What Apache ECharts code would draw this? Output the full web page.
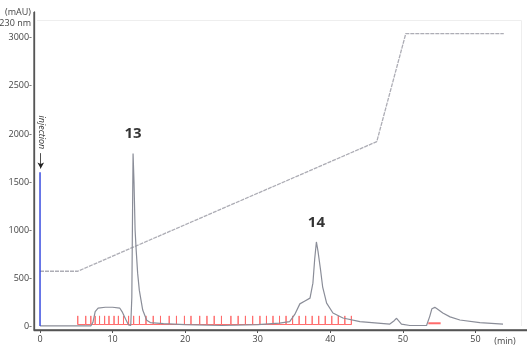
<!DOCTYPE html>
<html><head><meta charset="utf-8">
<script src="https://cdn.jsdelivr.net/npm/echarts@6/dist/echarts.min.js"></script>
<style>html,body{margin:0;padding:0;background:#fff}#c{width:527px;height:347px}</style>
</head><body><div id="c"></div>
<script>
// x tick labels as printed on the original (last one reads "50")
const xTickValues = [0, 10, 20, 30, 40, 50, 60];
const xTickLabels = ['0', '10', '20', '30', '40', '50', '50'];
const yTickValues = [0, 500, 1000, 1500, 2000, 2500, 3000];
const yTickLabels = ['0-', '500-', '1000-', '1500-', '2000-', '2500-', '3000-'];

// chromatogram trace [min, mAU]
const traceTime = [0, 7.0, 7.3, 7.6, 8.0, 9.0, 10.0, 11.0, 11.3, 11.5, 11.8, 12.2, 12.5, 12.65, 12.75, 12.82, 12.95, 13.1, 13.25, 13.45, 13.68, 14.15, 14.7, 15.2, 17, 20, 25, 30, 33, 34.4, 35.1, 35.8, 36.5, 37.2, 37.6, 37.85, 38.08, 38.3, 38.66, 38.94, 39.49, 40.36, 41.74, 44.08, 48.2, 48.44, 48.8, 49.13, 49.4, 49.8, 50.96, 53.26, 53.7, 54.0, 54.4, 54.7, 55.5, 56.5, 57.85, 60.6, 63.8];
const traceValue = [0, 0, 40, 150, 185, 195, 195, 185, 150, 130, 70, 10, 5, 300, 1200, 1795, 1500, 1000, 790, 550, 373, 166, 60, 35, 25, 15, 5, 15, 30, 45, 120, 230, 260, 290, 446, 700, 875, 780, 580, 408, 238, 135, 83, 45, 20, 15, 55, 80, 70, 20, 5, 5, 100, 180, 194, 180, 135, 95, 62, 34, 20];

// gradient profile [min, value]
const gradTime = [0, 5.2, 46.4, 50.4, 63.9];
const gradValue = [570, 570, 1920, 3045, 3045];

// injection mark
const injectionTime = 0;
const injectionHeight = 1600;

// fraction collector marks (min)
const fractionTimes = [5.2, 6.3, 7.0, 7.6, 8.2, 8.9, 9.5, 10.2, 10.8, 11.5, 12.2, 12.9, 13.7, 14.6, 15.6, 16.6, 17.8, 18.8, 19.9, 20.8, 22.0, 23.0, 24.0, 25.0, 26.3, 27.3, 28.3, 29.3, 30.3, 31.2, 32.1, 33.0, 33.9, 34.8, 35.7, 36.6, 37.5, 38.4, 39.3, 40.2, 41.1, 42.0, 42.9];
const fractionBase = 15;
const fractionTop = 105;
const wasteTimes = [53.5, 55.2];
const wasteValue = 28;

// peak labels
const peakLabels = [{name: '13', t: 12.82, v: 1795}, {name: '14', t: 38.08, v: 875}];

const chart = echarts.init(document.getElementById('c'), null, {renderer: 'canvas'});

const traceData = traceTime.map((t, i) => [t, traceValue[i]]);
const gradData = gradTime.map((t, i) => [t, gradValue[i]]);
const fracData = [];
fractionTimes.forEach(p => { fracData.push([p, fractionBase], [p, fractionTop], [p, fractionBase]); });

const font = 'Open Sans, Liberation Sans, sans-serif';

chart.setOption({
  animation: false,
  grid: {left: 34, right: 0, top: 12, bottom: 17, containLabel: false},
  xAxis: {
    type: 'value', min: -0.83, max: 67.1,
    axisLine: {show: true, onZero: false, lineStyle: {color: '#555', width: 1.3}},
    axisTick: {show: true, customValues: xTickValues, length: 3, lineStyle: {color: '#555'}},
    axisLabel: {customValues: xTickValues, color: '#444', fontSize: 9, fontFamily: font, margin: 5,
      formatter: v => xTickLabels[xTickValues.indexOf(v)] ?? ''},
    splitLine: {show: false}
  },
  yAxis: {
    type: 'value', min: -42, max: 3270,
    axisLine: {show: true, onZero: false, lineStyle: {color: '#555', width: 1.3}},
    axisTick: {show: false},
    axisLabel: {customValues: yTickValues, color: '#444', fontSize: 9, fontFamily: font, margin: 2,
      formatter: v => yTickLabels[yTickValues.indexOf(v)] ?? ''},
    splitLine: {show: false}
  },
  series: [
    {type: 'line', data: fracData, symbol: 'none', silent: true, z: 1,
      lineStyle: {color: '#ff6b6b', width: 1}},
    {type: 'line', data: wasteTimes.map(t => [t, wasteValue]), symbol: 'none', z: 1,
      lineStyle: {color: '#ff6b6b', width: 2}},
    {type: 'line', data: gradData, symbol: 'none', z: 2,
      lineStyle: {color: '#adadb5', width: 1.3, type: [4, 1]}},
    {type: 'line', data: traceData, symbol: 'none', z: 3,
      lineStyle: {color: '#8a8d98', width: 1.2}},
    {type: 'line', data: [[injectionTime, 0], [injectionTime, injectionHeight]], symbol: 'none', z: 4,
      lineStyle: {color: '#3a4de0', width: 1.5},
      markLine: {silent: true, symbol: ['none', 'arrow'], symbolSize: [5, 6], label: {show: false},
        lineStyle: {color: '#222', width: 0.8, type: 'solid'},
        data: [[{coord: [injectionTime + 0.1, 1800]}, {coord: [injectionTime + 0.1, 1640]}]]}},
    {type: 'scatter', data: peakLabels.map(p => ({value: [p.t, p.v], name: p.name})), symbolSize: 0, z: 5,
      label: {show: true, position: 'top', distance: 12, formatter: p => p.name,
        fontSize: 15, fontWeight: 'bold', color: '#000', fontFamily: font}}
  ]
});

const p0 = chart.convertToPixel({gridIndex: 0}, [0, 1830]);
chart.setOption({
  graphic: [
    {type: 'line', shape: {x1: 37, y1: 20.5, x2: 521.5, y2: 20.5}, style: {stroke: '#eeeeee', lineWidth: 1}, silent: true},
    {type: 'line', shape: {x1: 521.5, y1: 20.5, x2: 521.5, y2: 326}, style: {stroke: '#eeeeee', lineWidth: 1}, silent: true},
    {type: 'line', shape: {x1: 34, y1: 12, x2: 34, y2: 330}, style: {stroke: '#555', lineWidth: 1.3}, silent: true, z: 10},
    {type: 'line', shape: {x1: 34, y1: 330, x2: 527, y2: 330}, style: {stroke: '#555', lineWidth: 1.3}, silent: true, z: 10},
    {type: 'text', x: 31, y: 12, style: {text: '(mAU)', align: 'right', verticalAlign: 'middle', fontSize: 9, fill: '#444', fontFamily: font}},
    {type: 'text', x: 31, y: 23, style: {text: '230 nm', align: 'right', verticalAlign: 'middle', fontSize: 9, fill: '#444', fontFamily: font}},
    {type: 'text', x: 505, y: 341, style: {text: '(min)', align: 'center', verticalAlign: 'middle', fontSize: 9, fill: '#444', fontFamily: font}},
    {type: 'text', x: p0[0] + 2, y: p0[1] - 1, rotation: -Math.PI / 2,
      style: {text: 'injection', align: 'right', verticalAlign: 'middle', fontSize: 9, fontStyle: 'italic', fill: '#333', fontFamily: font}}
  ]
});
</script></body></html>
